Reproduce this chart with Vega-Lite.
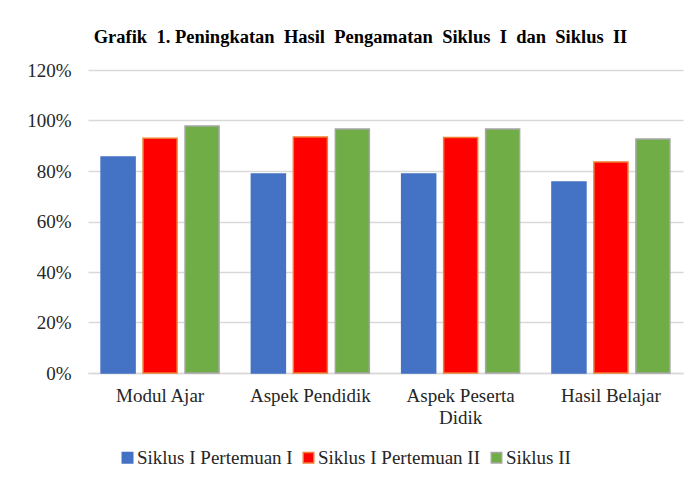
{
  "$schema": "https://vega.github.io/schema/vega-lite/v6.json",
  "width": 595,
  "height": 303,
  "autosize": {"type": "none"},
  "padding": {"left": 88, "top": 70, "right": 9, "bottom": 106},
  "background": "white",
  "title": {
    "text": "Grafik\u00a0 1. Peningkatan\u00a0 Hasil\u00a0 Pengamatan\u00a0 Siklus\u00a0 I\u00a0 dan\u00a0 Siklus\u00a0 II",
    "font": "Liberation Serif",
    "fontSize": 18.5,
    "fontWeight": "bold",
    "color": "#000000",
    "anchor": "middle",
    "dx": -25,
    "offset": 15
  },
  "data": {
    "values": [
      {"kategori": "Modul Ajar", "seri": "Siklus I Pertemuan I", "nilai": 0.855},
      {"kategori": "Modul Ajar", "seri": "Siklus I Pertemuan II", "nilai": 0.93},
      {"kategori": "Modul Ajar", "seri": "Siklus II", "nilai": 0.978},
      {"kategori": "Aspek Pendidik", "seri": "Siklus I Pertemuan I", "nilai": 0.788},
      {"kategori": "Aspek Pendidik", "seri": "Siklus I Pertemuan II", "nilai": 0.935},
      {"kategori": "Aspek Pendidik", "seri": "Siklus II", "nilai": 0.966},
      {"kategori": "Aspek Peserta Didik", "seri": "Siklus I Pertemuan I", "nilai": 0.788},
      {"kategori": "Aspek Peserta Didik", "seri": "Siklus I Pertemuan II", "nilai": 0.933},
      {"kategori": "Aspek Peserta Didik", "seri": "Siklus II", "nilai": 0.966},
      {"kategori": "Hasil Belajar", "seri": "Siklus I Pertemuan I", "nilai": 0.756},
      {"kategori": "Hasil Belajar", "seri": "Siklus I Pertemuan II", "nilai": 0.836},
      {"kategori": "Hasil Belajar", "seri": "Siklus II", "nilai": 0.927}
    ]
  },
  "mark": {"type": "bar", "strokeWidth": 1.5},
  "encoding": {
    "x": {
      "field": "kategori",
      "type": "nominal",
      "sort": ["Modul Ajar", "Aspek Pendidik", "Aspek Peserta Didik", "Hasil Belajar"],
      "scale": {"paddingInner": 0.215, "paddingOuter": 0.087},
      "axis": {
        "title": null,
        "labelAngle": 0,
        "labelFont": "Liberation Serif",
        "labelFontSize": 19,
        "labelColor": "#262626",
        "labelPadding": 13,
        "labelLineHeight": 22,
        "ticks": false,
        "domainColor": "#D9D9D9",
        "domainWidth": 1.5,
        "labelExpr": "datum.label == 'Aspek Peserta Didik' ? ['Aspek Peserta', 'Didik'] : datum.label"
      }
    },
    "xOffset": {
      "field": "seri",
      "type": "nominal",
      "scale": {"paddingInner": 0.19, "paddingOuter": 0}
    },
    "y": {
      "field": "nilai",
      "type": "quantitative",
      "scale": {"domain": [0, 1.2]},
      "axis": {
        "title": null,
        "format": ".0%",
        "values": [0, 0.2, 0.4, 0.6, 0.8, 1.0, 1.2],
        "labelFont": "Liberation Serif",
        "labelFontSize": 19,
        "labelColor": "#262626",
        "labelPadding": 17,
        "ticks": false,
        "domain": false,
        "gridColor": "#D9D9D9",
        "gridWidth": 1.5
      }
    },
    "fill": {
      "field": "seri",
      "type": "nominal",
      "scale": {
        "domain": ["Siklus I Pertemuan I", "Siklus I Pertemuan II", "Siklus II"],
        "range": ["#4472C4", "#FF0000", "#70AD47"]
      },
      "legend": {
        "title": null,
        "orient": "none",
        "legendX": 30,
        "legendY": 378,
        "direction": "horizontal",
        "symbolType": "square",
        "symbolSize": 110,
        "symbolStrokeWidth": 1.5,
        "labelFont": "Liberation Serif",
        "labelFontSize": 19,
        "labelColor": "#262626",
        "labelOffset": 0,
        "labelLimit": 300,
        "columnPadding": 6
      }
    },
    "stroke": {
      "field": "seri",
      "type": "nominal",
      "scale": {
        "domain": ["Siklus I Pertemuan I", "Siklus I Pertemuan II", "Siklus II"],
        "range": ["#4472C4", "#ED7D31", "#A5A5A5"]
      },
      "legend": null
    }
  },
  "config": {
    "view": {"stroke": null}
  }
}
